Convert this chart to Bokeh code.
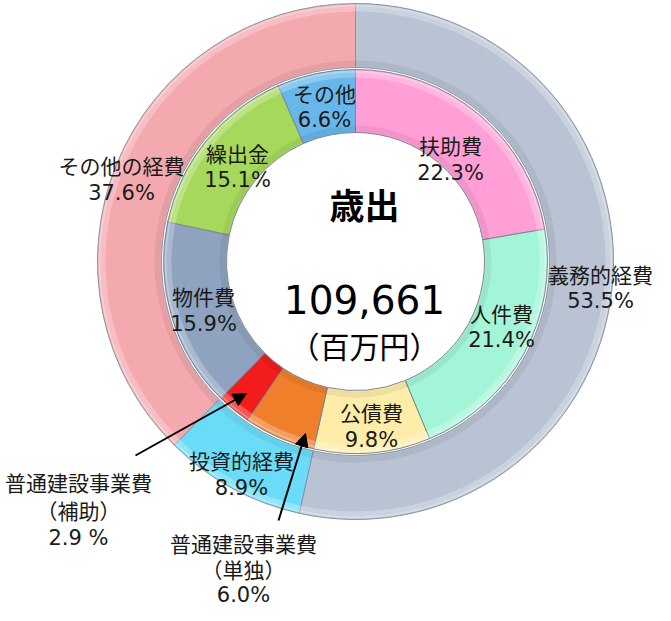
import math
from bokeh.plotting import figure
from bokeh.models import Range1d, Arrow, NormalHead, ColumnDataSource
from bokeh.core.properties import value
from bokeh.embed import file_html
from bokeh.resources import INLINE

# ---------------- data ----------------
title_text = "歳出"
total_text = "109,661"
unit_text = "（百万円）"

outer_names = ["義務的経費", "投資的経費", "その他の経費"]
outer_pct = [53.5, 8.9, 37.6]
outer_colors = ["#B9C3D4", "#6ADCF7", "#F3A9AE"]

inner_names = ["扶助費", "人件費", "公債費", "普通建設事業費\n（単独）",
               "普通建設事業費\n（補助）", "物件費", "繰出金", "その他"]
inner_pct = [22.3, 21.4, 9.8, 6.0, 2.9, 15.9, 15.1, 6.6]
inner_colors = ["#FF9FD6", "#A3F5D7", "#FDEDA8", "#F07F2B",
                "#F21C1C", "#8FA2BF", "#A6D85C", "#67B7EA"]
inner_pct_sep = ["", "", "", "", " ", "", "", ""]

# ---------------- layout (page pixels) ----------------
W, H = 655, 605
CX, CY = 363, 269          # ring centre in page-image pixels
R_OUT_O, R_OUT_I = 258, 194
R_IN_O, R_IN_I = 192, 129

def dx(x):
    return x - CX

def dy(y):
    return CY - y

# first-line centre of each label block (image px)
inner_label_pos = [(458, 152), (509, 320), (379, 419), (251, 550),
                   (86, 489), (211, 303), (245, 160), (332, 100)]
outer_label_pos = [(608, 281), (249, 467), (129, 172)]
inner_steps = [28, 27, 28, 26, 28, 28, 27, 27]
outer_steps = [27, 28, 28]

def wedges(pcts):
    starts, ends, c = [], [], 0.0
    for v in pcts:
        starts.append(math.pi / 2 - 2 * math.pi * c / 100.0)
        c += v
        ends.append(math.pi / 2 - 2 * math.pi * c / 100.0)
    return starts, ends

p = figure(width=W, height=H, output_backend="svg", toolbar_location=None,
           x_range=Range1d(dx(8), dx(8 + W)), y_range=Range1d(dy(8 + H), dy(8)),
           min_border=0, background_fill_color="white", border_fill_color="white")
p.axis.visible = False
p.grid.visible = False
p.outline_line_color = None

def ring(pcts, colors, r_in, r_out, edge):
    s, e = wedges(pcts)
    src = ColumnDataSource(dict(s=s, e=e, c=colors))
    p.annular_wedge(x=0, y=0, inner_radius=r_in, outer_radius=r_out,
                    start_angle="s", end_angle="e", direction="clock",
                    fill_color="c", line_color=edge, line_width=1, source=src)
    # bevel: light rim outside, soft shade inside
    p.annular_wedge(x=0, y=0, inner_radius=r_out - 8, outer_radius=r_out - 1,
                    start_angle="s", end_angle="e", direction="clock",
                    fill_color="white", fill_alpha=0.25, line_color=None, source=src)
    p.annular_wedge(x=0, y=0, inner_radius=r_out - 3, outer_radius=r_out - 1,
                    start_angle="s", end_angle="e", direction="clock",
                    fill_color="white", fill_alpha=0.25, line_color=None, source=src)
    p.annular_wedge(x=0, y=0, inner_radius=r_in + 1, outer_radius=r_in + 7,
                    start_angle="s", end_angle="e", direction="clock",
                    fill_color="black", fill_alpha=0.06, line_color=None, source=src)

ring(outer_pct, outer_colors, R_OUT_I, R_OUT_O, "#8a93a3")
ring(inner_pct, inner_colors, R_IN_I, R_IN_O, "#7d8594")

JP = "Noto Sans CJK JP"
NUM = "DejaVu Sans"
TXT = "#1a1a1a"

def add_labels(names, pcts, seps, pos, steps):
    xs, ys, ts, xs2, ys2, ts2 = [], [], [], [], [], []
    for n, v, sp, (x, y), st in zip(names, pcts, seps, pos, steps):
        lines = n.split("\n")
        for k, ln in enumerate(lines):
            xs.append(dx(x)); ys.append(dy(y + k * st)); ts.append(ln)
        xs2.append(dx(x)); ys2.append(dy(y + len(lines) * st))
        ts2.append(f"{v:.1f}{sp}%")
    p.text(x=xs, y=ys, text=ts, text_font=value(JP), text_font_size="21px",
           text_align="center", text_baseline="middle", text_color=TXT)
    p.text(x=xs2, y=ys2, text=ts2, text_font=value(NUM), text_font_size="21px",
           text_align="center", text_baseline="middle", text_color=TXT)

add_labels(inner_names, inner_pct, inner_pct_sep, inner_label_pos, inner_steps)
add_labels(outer_names, outer_pct, [""] * len(outer_names), outer_label_pos, outer_steps)

# centre texts
p.text(x=[dx(372)], y=[dy(211)], text=[title_text], text_font=value(JP),
       text_font_size="35px", text_font_style="bold", text_align="center",
       text_baseline="middle", text_color="black")
p.text(x=[dx(372)], y=[dy(307)], text=[total_text], text_font=value(NUM),
       text_font_size="39px", text_align="center", text_baseline="middle",
       text_color="black")
p.text(x=[dx(372)], y=[dy(352)], text=[unit_text], text_font=value(JP),
       text_font_size="30px", text_align="center", text_baseline="middle",
       text_color="black")

# arrows
for (x0, y0), (x1, y1) in [((143, 463), (254, 401)), ((286, 528), (313, 441))]:
    p.add_layout(Arrow(end=NormalHead(size=13, fill_color="black", line_color="black"),
                       x_start=dx(x0), y_start=dy(y0), x_end=dx(x1), y_end=dy(y1),
                       line_color="black", line_width=2))

open("out.html", "w").write(file_html(p, INLINE))
